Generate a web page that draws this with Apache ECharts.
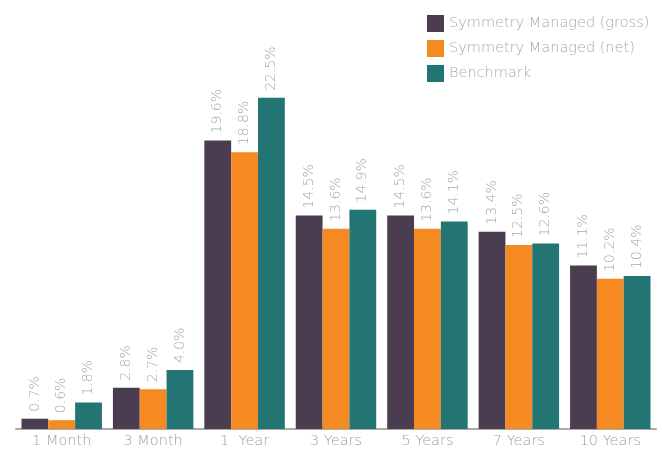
<!DOCTYPE html>
<html><head><meta charset="utf-8">
<script src="https://cdn.jsdelivr.net/npm/echarts@6/dist/echarts.min.js"></script>
<style>html,body{margin:0;padding:0;background:#fff}#c{width:662px;height:450px}</style>
</head><body><div id="c"></div>
<script>
var categories = ['1 Month','3 Month','1  Year','3 Years','5 Years','7 Years','10 Years'];
var gross = [0.7, 2.8, 19.6, 14.5, 14.5, 13.4, 11.1];
var net = [0.6, 2.7, 18.8, 13.6, 13.6, 12.5, 10.2];
var bench = [1.8, 4.0, 22.5, 14.9, 14.1, 12.6, 10.4];
var names = ['Symmetry Managed (gross)','Symmetry Managed (net)','Benchmark'];
var colors = ['#4a3d50','#f58a23','#237574'];
var font = 'DejaVu Sans';
function mk(name, data, color){
  return {name:name, type:'bar', data:data, barGap:'0%', barCategoryGap:'12%',
    itemStyle:{color:color},
    label:{show:true, position:'top', rotate:90, align:'left', verticalAlign:'middle', distance:7,
      color:'#a8a8a8', fontSize:14, fontWeight:200, fontFamily:font, formatter:function(p){return p.value.toFixed(1)+'%';}}};
}
var chart = echarts.init(document.getElementById('c'));
chart.setOption({
  animation:false,
  textStyle:{fontFamily:font},
  legend:{orient:'vertical', left:422, top:10, itemWidth:17, itemHeight:17, itemGap:8,
    icon:'rect', textStyle:{color:'#a8a8a8', fontSize:14.5, fontWeight:200, fontFamily:font}, data:names},
  grid:{left:16, right:6, top:61, bottom:21, containLabel:false},
  xAxis:{type:'category', data:categories,
    axisLine:{lineStyle:{color:'#aaaaaa', width:2}}, axisTick:{show:false},
    axisLabel:{color:'#a0a0a0', fontSize:14.5, fontWeight:200, fontFamily:font, margin:5}},
  yAxis:{type:'value', min:0, max:25, show:false, splitLine:{show:false}},
  series:[mk(names[0],gross,colors[0]), mk(names[1],net,colors[1]), mk(names[2],bench,colors[2])]
});
</script></body></html>
